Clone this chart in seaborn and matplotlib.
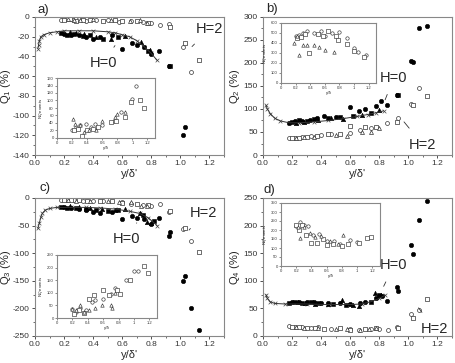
import matplotlib
matplotlib.use("Agg")
import matplotlib.pyplot as plt
import seaborn as sns
import pandas as pd
from matplotlib.ticker import MultipleLocator, FuncFormatter

sns.set_style("ticks")
plt.rcParams['font.family'] = ['Liberation Sans', 'DejaVu Sans']
plt.rcParams['axes.unicode_minus'] = False
plt.rcParams['mathtext.fontset'] = 'custom'
plt.rcParams['mathtext.rm'] = 'Liberation Sans'
plt.rcParams['mathtext.it'] = 'Liberation Sans:italic'

# ---------------- data ----------------
# Panel a (Q1)
a_dns_x = [0.02, 0.025, 0.03, 0.04, 0.06, 0.10, 0.15, 0.20, 0.30, 0.40, 0.50, 0.55, 0.60, 0.65, 0.70, 0.75, 0.80, 0.84]
a_dns_y = [-32, -28, -24, -20, -18, -16, -15, -14, -14, -14, -15, -16, -18, -20, -24, -30, -37, -44]
a_h0c_x = [0.20, 0.25, 0.30, 0.35, 0.40, 0.45, 0.53, 0.60, 0.67, 0.70, 0.75, 0.80, 0.85, 0.92, 1.02, 1.03]
a_h0c_y = [-17, -18, -18, -20, -22, -20, -18, -32, -26, -28, -30, -38, -34, -50, -120, -112]
a_h0s_x = [0.18, 0.22, 0.27, 0.33, 0.38, 0.47, 0.57, 0.78, 0.93]
a_h0s_y = [-16, -18, -17, -19, -18, -22, -20, -35, -50]
a_h0t_x = [0.24, 0.28, 0.34, 0.42, 0.52, 0.62, 0.73, 0.79]
a_h0t_y = [-15, -16, -17, -20, -22, -19, -25, -33]
a_h2c_x = [0.18, 0.22, 0.26, 0.30, 0.35, 0.42, 0.50, 0.58, 0.66, 0.74, 0.80, 0.86, 0.92, 1.02, 1.07]
a_h2c_y = [-3, -2, -3, -2, -4, -3, -3, -5, -4, -5, -6, -8, -7, -30, -56]
a_h2s_x = [0.20, 0.24, 0.28, 0.33, 0.38, 0.47, 0.55, 0.60, 0.70, 0.78, 0.93, 1.03, 1.13]
a_h2s_y = [-3, -2, -4, -3, -3, -4, -3, -4, -4, -6, -10, -26, -44]
a_h2t_x = [0.23, 0.27, 0.31, 0.40, 0.52, 0.65, 0.72, 0.77]
a_h2t_y = [-2, -3, -3, -2, -3, -4, -3, -6]
a_in_c_x = [0.20, 0.25, 0.30, 0.38, 0.45, 0.50, 0.60, 0.75, 0.85, 1.00, 1.05]
a_in_c_y = [22, 30, 35, 38, 30, 38, 35, 45, 70, 105, 140]
a_in_s_x = [0.22, 0.28, 0.33, 0.40, 0.48, 0.55, 0.72, 0.78, 0.90, 0.98, 1.10, 1.15]
a_in_s_y = [20, 25, 5, 20, 25, 30, 42, 45, 55, 97, 100, 80]
a_in_t_x = [0.21, 0.24, 0.30, 0.36, 0.42, 0.52, 0.60, 0.77, 0.80, 0.90]
a_in_t_y = [50, 38, 35, 15, 20, 20, 45, 55, 65, 70]

# Panel b (Q2)
b_dns_x = [0.02, 0.03, 0.05, 0.08, 0.12, 0.18, 0.25, 0.35, 0.45, 0.55, 0.65, 0.72, 0.78, 0.83]
b_dns_y = [108, 100, 90, 80, 74, 70, 70, 72, 75, 79, 84, 88, 92, 96]
b_h0c_x = [0.18, 0.22, 0.27, 0.32, 0.37, 0.42, 0.50, 0.60, 0.66, 0.70, 0.78, 0.81, 0.85, 0.92, 1.02, 1.03, 1.07, 1.13]
b_h0c_y = [70, 73, 74, 76, 80, 85, 82, 105, 95, 100, 107, 118, 108, 130, 205, 203, 275, 280]
b_h0s_x = [0.20, 0.25, 0.30, 0.35, 0.45, 0.53, 0.62, 0.74, 0.93]
b_h0s_y = [72, 75, 73, 78, 80, 82, 85, 92, 130]
b_h0t_x = [0.23, 0.28, 0.38, 0.47, 0.55, 0.68, 0.80]
b_h0t_y = [70, 72, 76, 80, 78, 88, 98]
b_h2c_x = [0.18, 0.22, 0.27, 0.33, 0.40, 0.47, 0.60, 0.67, 0.74, 0.85, 0.93, 1.02, 1.07]
b_h2c_y = [36, 38, 40, 42, 44, 46, 48, 55, 58, 70, 80, 110, 145]
b_h2s_x = [0.20, 0.25, 0.30, 0.37, 0.45, 0.53, 0.60, 0.70, 0.78, 0.92, 1.03, 1.13]
b_h2s_y = [37, 38, 40, 42, 45, 46, 63, 60, 60, 72, 108, 128]
b_h2t_x = [0.23, 0.28, 0.35, 0.50, 0.58, 0.68, 0.74, 0.80]
b_h2t_y = [37, 39, 40, 44, 42, 50, 50, 58]
b_in_c_x = [0.20, 0.25, 0.30, 0.35, 0.45, 0.55, 0.60, 0.70, 0.80, 0.90, 1.00, 1.05, 1.17]
b_in_c_y = [470, 480, 500, 520, 500, 520, 470, 500, 510, 450, 350, 310, 280]
b_in_s_x = [0.22, 0.27, 0.33, 0.38, 0.50, 0.58, 0.65, 0.75, 0.78, 0.90, 1.00, 1.13]
b_in_s_y = [450, 460, 490, 300, 490, 470, 520, 470, 430, 390, 320, 260]
b_in_t_x = [0.18, 0.22, 0.25, 0.30, 0.35, 0.45, 0.52, 0.60, 0.73]
b_in_t_y = [400, 470, 280, 380, 380, 380, 360, 330, 310]

# Panel c (Q3)
c_dns_x = [0.02, 0.03, 0.04, 0.05, 0.07, 0.10, 0.15, 0.25, 0.35, 0.45, 0.55, 0.65, 0.72, 0.78, 0.84]
c_dns_y = [-55, -45, -35, -28, -22, -19, -17, -17, -17, -18, -20, -24, -28, -36, -50]
c_h0c_x = [0.20, 0.25, 0.30, 0.35, 0.40, 0.45, 0.53, 0.60, 0.67, 0.70, 0.75, 0.80, 0.85, 0.92, 0.93, 1.02, 1.03, 1.07, 1.13]
c_h0c_y = [-17, -18, -20, -22, -25, -28, -25, -38, -32, -36, -38, -48, -37, -68, -62, -150, -142, -200, -240]
c_h0s_x = [0.18, 0.22, 0.28, 0.35, 0.42, 0.50, 0.57, 0.74, 0.82]
c_h0s_y = [-17, -18, -19, -20, -22, -23, -22, -30, -42]
c_h0t_x = [0.24, 0.30, 0.38, 0.46, 0.55, 0.62, 0.72, 0.77, 0.80]
c_h0t_y = [-15, -16, -18, -20, -22, -20, -28, -44, -46]
c_h2c_x = [0.18, 0.22, 0.27, 0.33, 0.40, 0.47, 0.60, 0.66, 0.74, 0.80, 0.86, 0.92, 1.02, 1.07]
c_h2c_y = [-3, -3, -4, -6, -5, -6, -8, -10, -12, -14, -10, -25, -57, -78]
c_h2s_x = [0.20, 0.25, 0.30, 0.36, 0.45, 0.53, 0.60, 0.70, 0.78, 0.93, 1.03, 1.13]
c_h2s_y = [-3, -4, -4, -6, -5, -5, -9, -10, -13, -23, -55, -98]
c_h2t_x = [0.23, 0.28, 0.38, 0.50, 0.58, 0.66, 0.73, 0.77]
c_h2t_y = [-3, -5, -5, -5, -7, -8, -15, -14]
c_in_c_x = [0.20, 0.25, 0.30, 0.38, 0.45, 0.50, 0.60, 0.70, 0.75, 0.90, 1.00, 1.05]
c_in_c_y = [35, 25, 40, 30, 65, 70, 75, 95, 120, 150, 185, 185]
c_in_s_x = [0.22, 0.28, 0.35, 0.42, 0.48, 0.60, 0.68, 0.78, 0.82, 0.95, 1.13, 1.18]
c_in_s_y = [15, 30, 20, 75, 90, 110, 90, 110, 95, 150, 205, 180]
c_in_t_x = [0.20, 0.25, 0.30, 0.35, 0.42, 0.50, 0.58, 0.70, 0.72, 0.75]
c_in_t_y = [35, 30, 50, 25, 30, 40, 50, 50, 40, 100]

# Panel d (Q4)
d_dns_x = [0.02, 0.03, 0.05, 0.08, 0.15, 0.30, 0.45, 0.60, 0.68, 0.74, 0.80, 0.84]
d_dns_y = [75, 68, 62, 59, 58, 58, 57, 57, 58, 62, 68, 74]
d_h0c_x = [0.20, 0.25, 0.30, 0.35, 0.40, 0.45, 0.53, 0.60, 0.67, 0.70, 0.78, 0.82, 0.85, 0.92, 0.93, 1.02, 1.03, 1.07, 1.13]
d_h0c_y = [62, 61, 62, 61, 60, 60, 60, 58, 60, 62, 68, 72, 64, 88, 82, 165, 148, 210, 245]
d_h0s_x = [0.18, 0.22, 0.27, 0.33, 0.38, 0.48, 0.57, 0.74, 0.80]
d_h0s_y = [60, 62, 60, 61, 60, 58, 56, 62, 75]
d_h0t_x = [0.24, 0.29, 0.36, 0.45, 0.54, 0.62, 0.66, 0.77, 0.81]
d_h0t_y = [62, 60, 58, 58, 65, 57, 55, 78, 75]
d_h2c_x = [0.18, 0.22, 0.27, 0.33, 0.38, 0.47, 0.60, 0.66, 0.74, 0.80, 0.86, 0.92, 1.02, 1.07]
d_h2c_y = [18, 17, 16, 15, 16, 12, 12, 11, 12, 13, 11, 17, 40, 48]
d_h2s_x = [0.20, 0.25, 0.30, 0.36, 0.42, 0.53, 0.60, 0.70, 0.78, 0.93, 1.03, 1.13]
d_h2s_y = [17, 16, 15, 14, 12, 14, 10, 12, 14, 15, 32, 67]
d_h2t_x = [0.23, 0.28, 0.38, 0.50, 0.58, 0.67, 0.73, 0.78]
d_h2t_y = [17, 15, 14, 13, 13, 10, 12, 14]
d_in_c_x = [0.20, 0.25, 0.30, 0.35, 0.42, 0.50, 0.60, 0.70, 0.78, 0.90, 1.00]
d_in_c_y = [225, 245, 230, 225, 170, 180, 140, 140, 120, 145, 135]
d_in_s_x = [0.20, 0.23, 0.28, 0.33, 0.40, 0.47, 0.55, 0.60, 0.68, 0.80, 0.88, 1.02, 1.13, 1.18]
d_in_s_y = [230, 200, 230, 175, 130, 130, 150, 115, 120, 110, 120, 130, 155, 160]
d_in_t_x = [0.22, 0.25, 0.30, 0.38, 0.45, 0.52, 0.65, 0.75, 0.82]
d_in_t_y = [215, 155, 215, 185, 160, 165, 140, 125, 170]

panel_labels = ["a)", "b)", "c)", "d)"]
ylabels = ["Q$_1$ (%)", "Q$_2$ (%)", "Q$_3$ (%)", "Q$_4$ (%)"]
xlabel = "y/δ'"
inset_ylabel = "N$_Q$ events"
inset_xlabel = "y/δ"

# ---------------- figure ----------------
W, H = 456, 363
fig = plt.figure(figsize=(W / 100, H / 100), dpi=100)

def px_axes(l, t, r, b):
    return fig.add_axes([l / W, (H - b) / H, (r - l) / W, (b - t) / H])

FS = 6.0
FRAME = "#888888"

def style_main(ax, ylim, ystep, ylab, label_x):
    ax.set_xlim(0, 1.3)
    ax.set_ylim(*ylim)
    ax.xaxis.set_major_locator(MultipleLocator(0.2))
    ax.xaxis.set_minor_locator(MultipleLocator(0.1))
    ax.yaxis.set_major_locator(MultipleLocator(ystep))
    ax.yaxis.set_minor_locator(MultipleLocator(ystep / 2))
    ax.xaxis.set_major_formatter(FuncFormatter(lambda v, p: f"{v:.1f}"))
    ax.tick_params(which="major", labelsize=FS, length=2.5, width=0.6, direction="out", pad=1.2, colors="#333333")
    ax.tick_params(which="minor", length=1.3, width=0.5, direction="out", colors="#333333")
    for s in ax.spines.values():
        s.set_visible(True)
        s.set_color(FRAME)
        s.set_linewidth(0.8)
    ax.set_xlabel(xlabel, fontsize=8, labelpad=1)
    ax.set_ylabel(ylab, fontsize=8, va="center")
    ax.yaxis.set_label_coords(label_x, 0.5)

def draw_main(ax, dx, dy, series):
    df = pd.DataFrame({"x": dx, "y": dy})
    sns.lineplot(data=df, x="x", y="y", ax=ax, color="#333333", linewidth=0.7, sort=True)
    sns.scatterplot(data=df, x="x", y="y", ax=ax, marker="x", s=7, color="#444444", linewidth=0.5)
    for (xs, ys, m, filled) in series:
        d = pd.DataFrame({"x": xs, "y": ys})
        if filled:
            sns.scatterplot(data=d, x="x", y="y", ax=ax, marker=m, s=10, color="black",
                            edgecolor="black", linewidth=0.4)
        else:
            sns.scatterplot(data=d, x="x", y="y", ax=ax, marker=m, s=8, facecolor="white",
                            edgecolor="#333333", linewidth=0.5)

def draw_inset(ax, series, ylim, ystep):
    for (xs, ys, m) in series:
        d = pd.DataFrame({"x": xs, "y": ys})
        sns.scatterplot(data=d, x="x", y="y", ax=ax, marker=m, s=6, facecolor="white",
                        edgecolor="#333333", linewidth=0.45)
    ax.set_xlim(0, 1.3)
    ax.set_ylim(*ylim)
    ax.xaxis.set_major_locator(MultipleLocator(0.2))
    ax.yaxis.set_major_locator(MultipleLocator(ystep))
    ax.xaxis.set_major_formatter(FuncFormatter(lambda v, p: f"{v:g}"))
    ax.tick_params(labelsize=3, length=1.5, width=0.4, pad=0.8, colors="#333333")
    for s in ax.spines.values():
        s.set_visible(True)
        s.set_color(FRAME)
        s.set_linewidth(0.8)
    ax.set_xlabel(inset_xlabel, fontsize=3.2, labelpad=0.5)
    ax.set_ylabel(inset_ylabel, fontsize=3.2, labelpad=0.5)

ARW = dict(arrowstyle="-", color="#333333", lw=0.6, shrinkA=5, shrinkB=0)
HFS = 10.5

# Panel a
axa = px_axes(35, 17, 224, 155)
draw_main(axa, a_dns_x, a_dns_y, [
    (a_h2c_x, a_h2c_y, "o", False), (a_h2s_x, a_h2s_y, "s", False), (a_h2t_x, a_h2t_y, "^", False),
    (a_h0c_x, a_h0c_y, "o", True), (a_h0s_x, a_h0s_y, "s", True), (a_h0t_x, a_h0t_y, "^", True)])
style_main(axa, (-140, 0), 20, ylabels[0], -0.153)
axa.annotate("H=0", xy=(0.55, -29), xytext=(0.47, -47), fontsize=HFS, ha="center", va="center", arrowprops=ARW)
axa.annotate("H=2", xy=(1.08, -30), xytext=(1.2, -12), fontsize=HFS, ha="center", va="center", arrowprops=ARW)
fig.text(37 / W, 1 - 10 / H, panel_labels[0], fontsize=9.5, va="center")

# Panel b
axb = px_axes(263, 17, 452, 155)
draw_main(axb, b_dns_x, b_dns_y, [
    (b_h2c_x, b_h2c_y, "o", False), (b_h2s_x, b_h2s_y, "s", False), (b_h2t_x, b_h2t_y, "^", False),
    (b_h0c_x, b_h0c_y, "o", True), (b_h0s_x, b_h0s_y, "s", True), (b_h0t_x, b_h0t_y, "^", True)])
style_main(axb, (0, 300), 50, ylabels[1], -0.15)
axb.annotate("H=0", xy=(0.84, 120), xytext=(0.9, 168), fontsize=HFS, ha="center", va="center", arrowprops=ARW)
axb.annotate("H=2", xy=(0.97, 72), xytext=(1.1, 22), fontsize=HFS, ha="center", va="center",
             arrowprops=dict(ARW, shrinkA=6))
fig.text(266 / W, 1 - 9 / H, panel_labels[1], fontsize=9.5, va="center")

# Panel c
axc = px_axes(35, 198, 224, 336)
draw_main(axc, c_dns_x, c_dns_y, [
    (c_h2c_x, c_h2c_y, "o", False), (c_h2s_x, c_h2s_y, "s", False), (c_h2t_x, c_h2t_y, "^", False),
    (c_h0c_x, c_h0c_y, "o", True), (c_h0s_x, c_h0s_y, "s", True), (c_h0t_x, c_h0t_y, "^", True)])
style_main(axc, (-250, 0), 50, ylabels[2], -0.153)
axc.annotate("H=0", xy=(0.70, -45), xytext=(0.63, -75), fontsize=HFS, ha="center", va="center", arrowprops=ARW)
axc.annotate("H=2", xy=(1.06, -58), xytext=(1.16, -27), fontsize=HFS, ha="center", va="center", arrowprops=ARW)
fig.text(40 / W, 1 - 188 / H, panel_labels[2], fontsize=9.5, va="center")

# Panel d
axd = px_axes(263, 198, 452, 336)
draw_main(axd, d_dns_x, d_dns_y, [
    (d_h2c_x, d_h2c_y, "o", False), (d_h2s_x, d_h2s_y, "s", False), (d_h2t_x, d_h2t_y, "^", False),
    (d_h0c_x, d_h0c_y, "o", True), (d_h0s_x, d_h0s_y, "s", True), (d_h0t_x, d_h0t_y, "^", True)])
style_main(axd, (0, 250), 50, ylabels[3], -0.15)
axd.annotate("H=0", xy=(0.83, 90), xytext=(0.9, 128), fontsize=HFS, ha="center", va="center", arrowprops=ARW)
axd.annotate("H=2", xy=(1.07, 51), xytext=(1.18, 12), fontsize=HFS, ha="center", va="center",
             arrowprops=dict(ARW, shrinkA=6))
fig.text(264 / W, 1 - 190 / H, panel_labels[3], fontsize=9.5, va="center")

# Insets
ia = px_axes(57, 78, 155, 138)
draw_inset(ia, [(a_in_c_x, a_in_c_y, "o"), (a_in_s_x, a_in_s_y, "s"), (a_in_t_x, a_in_t_y, "^")], (0, 160), 20)
ib = px_axes(281, 23, 376, 83)
draw_inset(ib, [(b_in_c_x, b_in_c_y, "o"), (b_in_s_x, b_in_s_y, "s"), (b_in_t_x, b_in_t_y, "^")], (0, 600), 100)
ic = px_axes(57, 255, 157, 318)
draw_inset(ic, [(c_in_c_x, c_in_c_y, "o"), (c_in_s_x, c_in_s_y, "s"), (c_in_t_x, c_in_t_y, "^")], (0, 250), 50)
idd = px_axes(281, 203, 380, 266)
draw_inset(idd, [(d_in_c_x, d_in_c_y, "o"), (d_in_s_x, d_in_s_y, "s"), (d_in_t_x, d_in_t_y, "^")], (0, 350), 50)

fig.savefig("out.png", dpi=100)
